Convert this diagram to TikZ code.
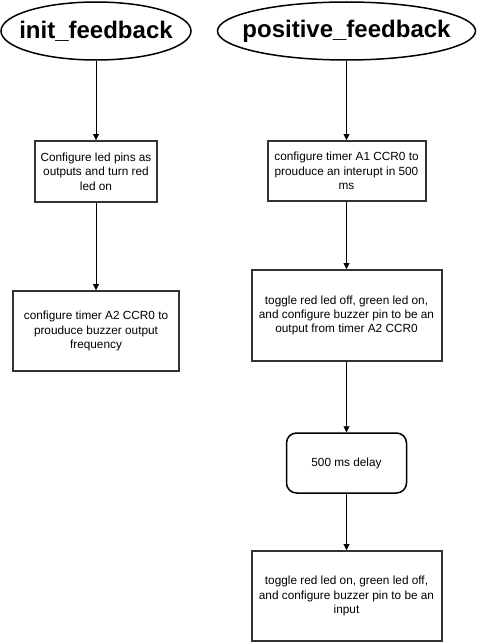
\documentclass[tikz,border=0pt]{standalone}
\usepackage{fontspec}
\setmainfont{Liberation Sans}
\usetikzlibrary{arrows.meta,shapes.geometric}
\tikzstyle{startnode}=[ellipse,draw,line width=1.5pt,minimum height=58pt,inner xsep=-30pt,inner ysep=0pt,font=\fontsize{24}{28}\selectfont\bfseries]
\tikzstyle{stepnode}=[rectangle,draw=black!80,line width=2pt,align=center,inner sep=0pt,font=\fontsize{11.8}{14.4}\selectfont]
\tikzstyle{delaynode}=[rectangle,rounded corners=10pt,draw,line width=1.5pt,align=center,inner sep=0pt,font=\fontsize{11.8}{14.4}\selectfont]
\tikzstyle{edge} = [draw,-{Triangle[length=6pt,width=6pt]}]

\begin{document}
\begin{tikzpicture}[x=1pt,y=-1pt]
    \useasboundingbox (0,0) rectangle (478,642);

    % entry points
    \node[startnode,minimum width=190pt] (init) at (96,31) {init\_feedback};
    \node[startnode,minimum width=258pt] (pos) at (346.5,31) {positive\_feedback};

    % left column
    \node[stepnode,minimum width=122pt,minimum height=61pt] (ledpins) at (96,171.5)
        {Configure led pins as\\outputs and turn red\\led on};
    \node[stepnode,minimum width=166pt,minimum height=80pt] (timerAtwo) at (96,331)
        {configure timer A2 CCR0 to\\prouduce buzzer output\\frequency};

    % right column
    \node[stepnode,minimum width=158pt,minimum height=60pt] (timerAone) at (346.5,171)
        {configure timer A1 CCR0 to\\prouduce an interupt in 500\\ms};
    \node[stepnode,minimum width=190pt,minimum height=91pt] (ledoff) at (346.5,315.5)
        {toggle red led off, green led on,\\and configure buzzer pin to be an\\output from timer A2 CCR0};
    \node[delaynode,minimum width=120pt,minimum height=60pt] (delay) at (346.5,463) {500 ms delay};
    \node[stepnode,minimum width=190pt,minimum height=90pt] (ledon) at (346.5,596)
        {toggle red led on, green led off,\\and configure buzzer pin to be an\\input};

    % Connect the steps
    \foreach \source/ \dest in {init/ledpins, ledpins/timerAtwo, pos/timerAone,
                               timerAone/ledoff, ledoff/delay, delay/ledon}
        \path[edge] (\source) -- (\dest);

\end{tikzpicture}
\end{document}
